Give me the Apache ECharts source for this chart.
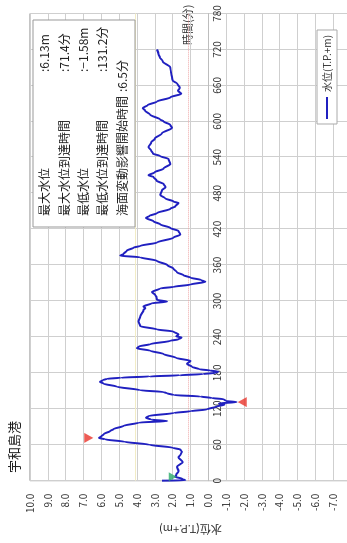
<!DOCTYPE html>
<html><head><meta charset="utf-8">
<script src="https://cdn.jsdelivr.net/npm/echarts@6/dist/echarts.min.js"></script>
<style>
html,body{margin:0;padding:0;background:#fff;overflow:hidden;width:347px;height:543px}
#c{position:absolute;left:0;top:0;width:543px;height:360px;transform-origin:0 0;transform:translate(0px,543px) rotate(-90deg)}
</style>
</head><body><div id="c"></div>
<script>
// time (minutes) and water level (T.P.+m)
const times = [0,0.5,3,6.5,10,16,23,31,39,44,48,52,55,60,65,69,71.4,74,78,83,86,91.5,97,99.5,102,105,108,113,116,119,124,127,129,131.2,133,136,138,140.6,143,146,148,151,157,162,165,168,170,172,174,176,178,180,182,184,186,190,195,200,205,211.5,217,221,224,228,233.5,236,239,241,244,249,252.5,258,266,274,285,288,291,296,299,302,306,310,315,321,323.6,327.5,332,335,339,343,348,354,360,367,373,375.6,378.5,384,389,392,397.6,405.8,411,416.7,422,428,433,438.6,442,446.7,454,458,463.6,466,471.5,477,485,490,495,501,507,510,515,521,529,537,542,546,551,557,565,571,580,589,594,600,603,611,618,622,627,633,640,646,651,656,663,668,674,682,690,700,707,712,720];
const levels = [2.6,1.3,1.45,1.85,1.8,1.67,1.76,1.44,1.67,1.55,1.48,1.57,2.0,3.3,4.7,5.8,6.13,6.0,5.85,5.5,5.32,4.76,3.9,2.3,3.2,3.5,3.35,1.94,1.0,0.07,-0.49,-0.9,-0.6,-1.58,-1.0,-0.86,-0.2,0.45,1.95,2.32,2.5,3.82,5.13,5.88,6.07,5.9,5.69,4.9,3.3,1.6,0.3,-0.4,-0.55,-0.1,0.5,0.9,1.2,1.0,1.8,2.51,3.26,4.0,3.9,3.26,2.13,1.67,1.5,1.8,1.67,1.95,2.88,3.82,3.92,3.82,3.63,3.54,3.63,3.2,2.32,2.88,2.9,2.98,3.16,2.7,1.95,1.0,0.17,0.4,1.0,1.39,1.76,1.95,2.3,2.88,3.82,4.94,4.76,4.57,4.2,3.82,2.88,1.95,1.57,1.67,2.13,2.7,3.07,3.5,3.3,2.88,2.13,1.85,1.67,1.95,2.42,2.7,2.6,2.4,2.5,2.9,3.07,3.35,3.0,2.51,2.13,2.23,2.7,3.1,3.2,3.35,3.2,3.0,2.6,2.04,2.13,2.51,2.7,3.26,3.55,3.68,3.4,2.88,2.13,1.52,1.7,1.6,1.75,2.0,2.04,2.1,2.13,2.55,2.72,2.8,2.88];
// marker positions [time, level]
const maxMarker = [71.4, 6.7];
const minMarker = [131.2, -1.9];
const startMarker = [6.5, 2.0];
// statistics box
const statLabels = ['最大水位','最大水位到達時間','最低水位','最低水位到達時間','海面変動影響開始時間'];
const statValues = [':6.13m',':71.4分',':−1.58m',':131.2分',':6.5分'];
const title = '宇和島港';
const levelAxisName = '水位(T.P.+m)';
const timeAxisName = '時間(分)';
const seriesName = '水位(T.P.+m)';

const FONT = '"Noto Sans CJK JP", sans-serif';
const chart = echarts.init(document.getElementById('c'));
const lineData = times.map((t,i)=>[t, levels[i]]);
const rowY = [44,64,83,102,122];
// grid geometry (in the un-rotated frame)
const gridTop = 30, gridHeight = 321, levelMin = -8, levelMax = 10;
// place the time axis on the level-0 line
const zeroOffset = -gridHeight * (0 - levelMin) / (levelMax - levelMin);
const graphics = [
  {type:'text', x:498, y:188, style:{text:timeAxisName, font:'11px ' + FONT, fill:'#333', textAlign:'left', textVerticalAlign:'middle'}},
  {type:'rect', shape:{x:316, y:33, width:207, height:102}, style:{fill:'#fff', stroke:'#999', lineWidth:1}, z:10}
];
statLabels.forEach((s,i)=>{
  graphics.push({type:'text', x:327, y:rowY[i], z:11, style:{text:s, font:'12px ' + FONT, fill:'#222', textAlign:'left', textVerticalAlign:'middle'}});
  graphics.push({type:'text', x: i===4 ? 451 : 471, y:rowY[i], z:11, style:{text:statValues[i], font:'12px ' + FONT, fill:'#222', textAlign:'left', textVerticalAlign:'middle'}});
});

chart.setOption({
  animation:false,
  backgroundColor:'#fff',
  textStyle:{fontFamily:FONT},
  title:{text:title, left:65, top:3, textStyle:{fontSize:13, fontWeight:'normal', color:'#222', fontFamily:FONT}},
  legend:{data:[seriesName], left:419, top:317, orient:'horizontal', icon:'rect', itemWidth:22, itemHeight:2, itemGap:4,
    padding:[5,5], borderColor:'#aaa', borderWidth:1, backgroundColor:'#fff',
    textStyle:{fontSize:10, color:'#333', fontFamily:FONT}},
  grid:{left:54, top:gridTop, width:475.5, height:gridHeight, show:true, borderColor:'#8a8a8a', borderWidth:1, backgroundColor:'#fff'},
  xAxis:{type:'value', min:0, max:780, interval:60, position:'bottom', offset:zeroOffset,
    axisLine:{show:true, onZero:false, lineStyle:{color:'#bdbdbd'}}, axisTick:{show:false},
    axisLabel:{margin:4, fontSize:10, color:'#333'},
    splitLine:{lineStyle:{color:'#cfcfcf'}}},
  yAxis:{type:'value', min:levelMin, max:levelMax, interval:1,
    axisLine:{show:false, onZero:false}, axisTick:{show:false},
    axisLabel:{margin:13, fontSize:10, color:'#333', formatter:v=>v.toFixed(1)},
    splitLine:{lineStyle:{color:'#cfcfcf'}},
    name:levelAxisName, nameLocation:'middle', nameGap:38, nameRotate:90,
    nameTextStyle:{fontSize:11, color:'#333', fontFamily:FONT}},
  graphic:graphics,
  series:[
    {type:'line', name:seriesName, data:lineData, symbol:'none', smooth:0.3, smoothMonotone:'x',
      lineStyle:{color:'#2020c0', width:2}, itemStyle:{color:'#2020c0'}, z:5,
      markLine:{silent:true, symbol:'none', label:{show:false},
        data:[{yAxis:4.1, lineStyle:{color:'#f2ecc6', width:1, type:'solid'}},
              {yAxis:1.15, lineStyle:{color:'#f0a8a8', width:1, type:'dotted'}}]}},
    {type:'scatter', data:[maxMarker], symbol:'triangle', symbolSize:[10,9], symbolRotate:180, itemStyle:{color:'#e8332a'}, z:6},
    {type:'scatter', data:[minMarker], symbol:'triangle', symbolSize:[10,9], symbolRotate:0, itemStyle:{color:'#e8332a'}, z:6},
    {type:'scatter', data:[startMarker], symbol:'triangle', symbolSize:[9,8], symbolRotate:180, itemStyle:{color:'#2aaa6a'}, z:6}
  ]
});
</script></body></html>
